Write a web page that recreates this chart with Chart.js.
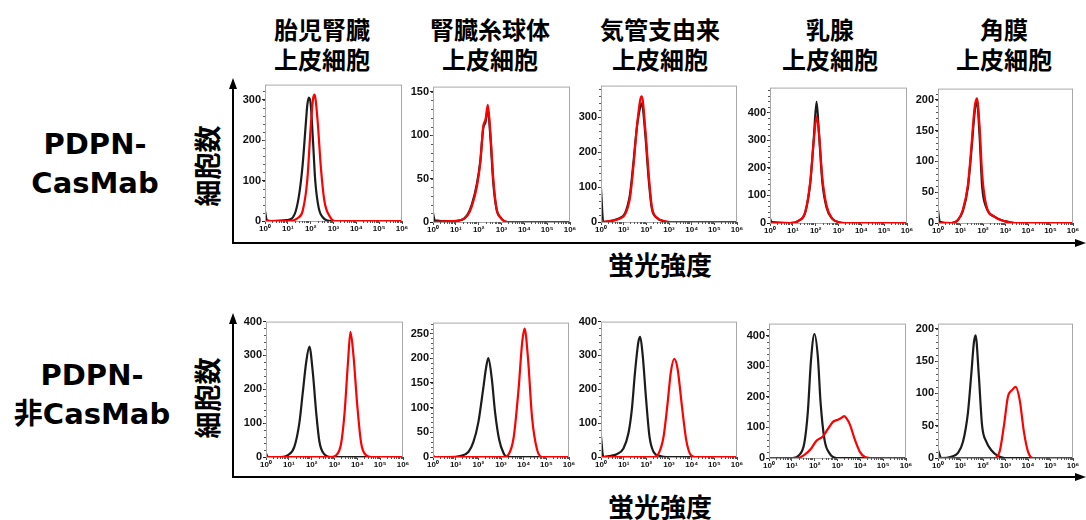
<!DOCTYPE html>
<html>
<head>
<meta charset="utf-8">
<script src="https://cdn.jsdelivr.net/npm/chart.js@4.4.1/dist/chart.umd.min.js"></script>
<style>
  body { margin: 0; background: #fff; }
  #wrap { position: relative; width: 1086px; height: 520px; overflow: hidden; background: #fff; }
  .lbl { position: absolute; transform: translate(-50%, -50%); white-space: nowrap; color: #000; font-weight: bold; text-align: center; }
  .title { font-family: "Noto Sans CJK JP", sans-serif; font-size: 24px; line-height: 30px; }
  .row { font-family: "DejaVu Sans", "Noto Sans CJK JP", sans-serif; font-size: 29px; line-height: 39px; }
  .ylab { font-family: "Noto Sans CJK JP", sans-serif; font-size: 27px; transform: translate(-50%, -50%) rotate(-90deg); }
  .xlab { font-family: "Noto Sans CJK JP", sans-serif; font-size: 26px; }
  canvas { position: absolute; }
</style>
</head>
<body>
<div id="wrap">
  <svg width="1086" height="520" style="position:absolute;left:0;top:0">
    <g stroke="#000" stroke-width="2" fill="none">
      <line x1="233" y1="86" x2="233" y2="243"/>
      <line x1="232" y1="243" x2="1078" y2="243"/>
      <line x1="233" y1="321" x2="233" y2="477"/>
      <line x1="232" y1="477" x2="1078" y2="477"/>
    </g>
    <g fill="#000">
      <polygon points="233,78 229,89 237,89"/>
      <polygon points="1086,243 1075,239 1075,247"/>
      <polygon points="233,313 229,324 237,324"/>
      <polygon points="1086,477 1075,473 1075,481"/>
    </g>
  </svg>
</div>
<script>
// 細胞の種類 (列見出し)
var cellTypes = [
    ["胎児腎臓", "上皮細胞"],
    ["腎臓糸球体", "上皮細胞"],
    ["気管支由来", "上皮細胞"],
    ["乳腺", "上皮細胞"],
    ["角膜", "上皮細胞"]
];
var rowLabels = [["PDPN-", "CasMab"], ["PDPN-", "非CasMab"]];
var yAxisTitle = "細胞数";
var xAxisTitle = "蛍光強度";
var xTickLabels = ["10⁰", "10¹", "10²", "10³", "10⁴", "10⁵", "10⁶"];

// y軸の上限と目盛り間隔 (パネル順)
var yMaxList = [337, 156, 391, 490, 218, 400, 272, 400, 439, 208];
var yStepList = [100, 50, 100, 100, 50, 100, 50, 100, 100, 50];

// ヒストグラム [log10(蛍光強度), 細胞数]
// CasMab 行
var cas_fetalKidney_black = [[0,25],[0.08,2],[0.3,0],[0.95,2],[1.3,17],[1.5,67],[1.65,140],[1.8,250],[1.85,285],[1.92,305],[2.0,290],[2.1,200],[2.2,100],[2.35,33],[2.55,8],[2.9,0],[6,0]];
var cas_fetalKidney_red = [[0,0],[1.0,0],[1.45,8],[1.65,25],[1.85,100],[2.0,230],[2.1,300],[2.17,312],[2.3,250],[2.45,130],[2.6,50],[2.85,10],[3.05,0],[6,0]];
var cas_glomerular_black = [[0,10],[0.08,2],[0.74,1],[1.2,2],[1.5,8],[1.7,20],[1.93,45],[2.07,70],[2.2,108],[2.3,115],[2.4,130],[2.52,95],[2.64,45],[2.78,15],[2.96,5],[3.26,0],[6,0]];
var cas_glomerular_red = [[0,0],[0.74,1],[1.2,2],[1.5,7],[1.7,18],[1.93,42],[2.07,68],[2.2,110],[2.3,118],[2.4,135],[2.52,100],[2.64,50],[2.78,16],[2.96,5],[3.26,0],[6,0]];
var cas_bronchial_black = [[0,95],[0.1,0],[0.55,5],[0.84,12],[1.06,25],[1.28,80],[1.43,170],[1.58,270],[1.73,330],[1.8,340],[1.95,255],[2.1,125],[2.24,40],[2.46,12],[2.76,3],[3.05,0],[6,0]];
var cas_bronchial_red = [[0,0],[0.55,4],[0.84,10],[1.06,22],[1.28,70],[1.43,160],[1.58,270],[1.73,350],[1.8,360],[1.95,270],[2.1,140],[2.24,45],[2.46,13],[2.76,3],[3.05,0],[6,0]];
var cas_mammary_black = [[0,15],[0.08,3],[0.88,0],[1.25,8],[1.55,40],[1.77,150],[1.92,310],[2.04,438],[2.14,330],[2.29,150],[2.48,55],[2.73,15],[3.02,3],[3.24,0],[6,0]];
var cas_mammary_red = [[0,0],[0.88,0],[1.25,8],[1.55,42],[1.77,155],[1.92,300],[2.04,385],[2.14,330],[2.29,165],[2.48,62],[2.73,16],[3.02,3],[3.24,0],[6,0]];
var cas_corneal_black = [[0,21],[0.08,2],[0.6,0],[0.89,5],[1.11,20],[1.33,58],[1.48,115],[1.63,180],[1.73,198],[1.85,140],[1.96,60],[2.15,25],[2.52,10],[2.96,3],[3.4,0],[6,0]];
var cas_corneal_red = [[0,0],[0.6,0],[0.89,5],[1.11,22],[1.33,62],[1.48,122],[1.63,188],[1.73,202],[1.85,155],[1.96,80],[2.15,28],[2.52,10],[2.96,3],[3.4,0],[6,0]];
// 非CasMab 行
var non_fetalKidney_black = [[0,10],[0.08,0],[0.66,0],[0.95,5],[1.24,30],[1.46,100],[1.61,190],[1.76,280],[1.9,326],[2.05,250],[2.2,130],[2.34,45],[2.53,10],[2.86,0],[6,0]];
var non_fetalKidney_red = [[0,0],[2.86,0],[3.07,5],[3.29,40],[3.44,130],[3.59,280],[3.7,370],[3.83,300],[4.0,150],[4.17,40],[4.39,5],[4.61,0],[6,0]];
var non_glomerular_black = [[0,3],[0.08,0],[0.74,0],[1.19,2],[1.56,10],[1.78,30],[2.0,70],[2.22,140],[2.34,180],[2.44,200],[2.59,160],[2.74,90],[2.92,35],[3.11,8],[3.26,0],[6,0]];
var non_glomerular_red = [[0,0],[3.11,0],[3.33,5],[3.56,40],[3.78,140],[3.93,230],[4.04,260],[4.19,200],[4.37,80],[4.59,15],[4.81,0],[6,0]];
var non_bronchial_black = [[0,60],[0.1,0],[0.4,3],[0.69,8],[0.99,25],[1.21,70],[1.36,140],[1.5,250],[1.65,340],[1.73,355],[1.84,300],[1.99,170],[2.14,60],[2.32,15],[2.61,3],[2.9,0],[6,0]];
var non_bronchial_red = [[0,0],[2.32,0],[2.54,10],[2.76,60],[2.94,160],[3.08,250],[3.23,290],[3.38,260],[3.57,150],[3.76,50],[3.97,5],[4.16,0],[6,0]];
var non_mammary_black = [[0,0],[1.03,0],[1.33,10],[1.55,50],[1.7,150],[1.84,320],[1.99,405],[2.14,330],[2.26,180],[2.43,60],[2.65,15],[2.95,0],[6,0]];
var non_mammary_red = [[0,0],[1.25,0],[1.55,10],[1.84,30],[2.06,55],[2.36,70],[2.58,95],[2.8,118],[2.9,122],[3.02,125],[3.1,128],[3.24,135],[3.3,137],[3.39,130],[3.54,110],[3.76,60],[3.98,20],[4.2,3],[4.42,0],[6,0]];
var non_corneal_black = [[0,12],[0.15,0],[0.59,2],[0.89,8],[1.11,25],[1.33,70],[1.48,130],[1.6,180],[1.67,190],[1.81,130],[1.96,50],[2.15,25],[2.37,12],[2.67,3],[2.96,0],[6,0]];
var non_corneal_red = [[0,0],[2.52,0],[2.74,10],[2.93,50],[3.11,95],[3.29,105],[3.45,110],[3.63,90],[3.82,40],[4.0,10],[4.22,0],[6,0]];

var blackCurves = [cas_fetalKidney_black, cas_glomerular_black, cas_bronchial_black, cas_mammary_black, cas_corneal_black,
    non_fetalKidney_black, non_glomerular_black, non_bronchial_black, non_mammary_black, non_corneal_black];
var redCurves = [cas_fetalKidney_red, cas_glomerular_red, cas_bronchial_red, cas_mammary_red, cas_corneal_red,
    non_fetalKidney_red, non_glomerular_red, non_bronchial_red, non_mammary_red, non_corneal_red];

// パネルの枠 (left, top, right, bottom)
var frames = [
    [265, 84, 402, 221], [433, 86, 570, 222], [601, 85, 737, 222], [770, 87, 907, 223], [938, 88, 1073, 223],
    [266, 321, 403, 457], [433, 322, 569, 457], [601, 321, 737, 457], [769, 323, 906, 458], [938, 323, 1073, 458]
];

var wrap = document.getElementById("wrap");

function addLabel(cls, html, x, y) {
    var d = document.createElement("div");
    d.className = "lbl " + cls;
    d.innerHTML = html;
    d.style.left = x + "px";
    d.style.top = y + "px";
    wrap.appendChild(d);
}

var titleX = [322, 490, 660, 830, 1004];
for (var i = 0; i < cellTypes.length; i++) {
    addLabel("title", cellTypes[i].join("<br>"), titleX[i], 44);
}
addLabel("row", rowLabels[0].join("<br>"), 95, 164);
addLabel("row", rowLabels[1].join("<br>"), 92, 395);
addLabel("ylab", yAxisTitle, 206, 166);
addLabel("ylab", yAxisTitle, 206, 398);
addLabel("xlab", xAxisTitle, 660, 263);
addLabel("xlab", xAxisTitle, 660, 505);

// 枠と補助目盛り
var framePlugin = {
    id: "frame",
    afterDraw: function (chart) {
        var a = chart.chartArea;
        var ctx = chart.ctx;
        var xs = chart.scales.x, ys = chart.scales.y;
        ctx.save();
        ctx.strokeStyle = "#a8a8a8";
        ctx.lineWidth = 1;
        ctx.strokeRect(a.left + 0.5, a.top + 0.5, a.right - a.left - 1, a.bottom - a.top);
        ctx.strokeStyle = "#555";
        ctx.beginPath();
        var step = chart.options.scales.y.ticks.stepSize / 5;
        for (var v = step; v < ys.max; v += step) {
            var py = Math.round(ys.getPixelForValue(v)) + 0.5;
            ctx.moveTo(a.left - 2, py);
            ctx.lineTo(a.left, py);
        }
        for (var d = 0; d < 6; d++) {
            for (var k = 2; k <= 9; k++) {
                var px = Math.round(xs.getPixelForValue(d + Math.log10(k))) + 0.5;
                ctx.moveTo(px, a.bottom);
                ctx.lineTo(px, a.bottom + 2);
            }
        }
        ctx.stroke();
        ctx.restore();
    }
};

var padL = 38, padT = 7, padR = 9, padB = 18;

function toXY(arr) {
    return arr.map(function (p) { return { x: p[0], y: p[1] }; });
}

function createPanel(idx) {
    var f = frames[idx];
    var c = document.createElement("canvas");
    var w = f[2] - f[0] + padL + padR;
    var h = f[3] - f[1] + padT + padB;
    c.width = w;
    c.height = h;
    c.style.width = w + "px";
    c.style.height = h + "px";
    c.style.left = (f[0] - padL) + "px";
    c.style.top = (f[1] - padT) + "px";
    wrap.appendChild(c);

    // 赤を先に置く -> 黒の上に描かれる
    new Chart(c.getContext("2d"), {
        type: "line",
        data: {
            datasets: [
                {
                    data: toXY(redCurves[idx]),
                    borderColor: "#ff0000",
                    borderWidth: 2.2,
                    pointRadius: 0,
                    cubicInterpolationMode: "monotone",
                    fill: false
                },
                {
                    data: toXY(blackCurves[idx]),
                    borderColor: "#1c1c1c",
                    borderWidth: 2.2,
                    pointRadius: 0,
                    cubicInterpolationMode: "monotone",
                    fill: false
                }
            ]
        },
        options: {
            responsive: false,
            animation: false,
            events: [],
            layout: { padding: { top: padT, right: padR, left: 0, bottom: 0 } },
            plugins: { legend: { display: false }, tooltip: { enabled: false }, title: { display: false } },
            scales: {
                x: {
                    type: "linear",
                    min: 0,
                    max: 6,
                    border: { display: false },
                    grid: { drawOnChartArea: false, drawTicks: true, tickLength: 3, color: "#444" },
                    ticks: {
                        stepSize: 1,
                        padding: 0,
                        maxRotation: 0,
                        autoSkip: false,
                        color: "#111",
                        font: { family: "Liberation Sans", size: 8, weight: "bold" },
                        callback: function (v) { return xTickLabels[v]; }
                    },
                    afterFit: function (s) { s.height = padB; }
                },
                y: {
                    min: 0,
                    max: yMaxList[idx],
                    border: { display: false },
                    grid: { drawOnChartArea: false, drawTicks: true, tickLength: 3, color: "#222" },
                    ticks: {
                        stepSize: yStepList[idx],
                        padding: 1,
                        color: "#111",
                        font: { family: "Liberation Sans", size: 11, weight: "bold" }
                    },
                    afterBuildTicks: function (s) {
                        var t = [];
                        for (var v = 0; v <= yMaxList[idx]; v += yStepList[idx]) {
                            t.push({ value: v });
                        }
                        s.ticks = t;
                    },
                    afterFit: function (s) { s.width = padL; }
                }
            }
        },
        plugins: [framePlugin]
    });
}

for (var p = 0; p < frames.length; p++) {
    createPanel(p);
}
</script>
</body>
</html>
